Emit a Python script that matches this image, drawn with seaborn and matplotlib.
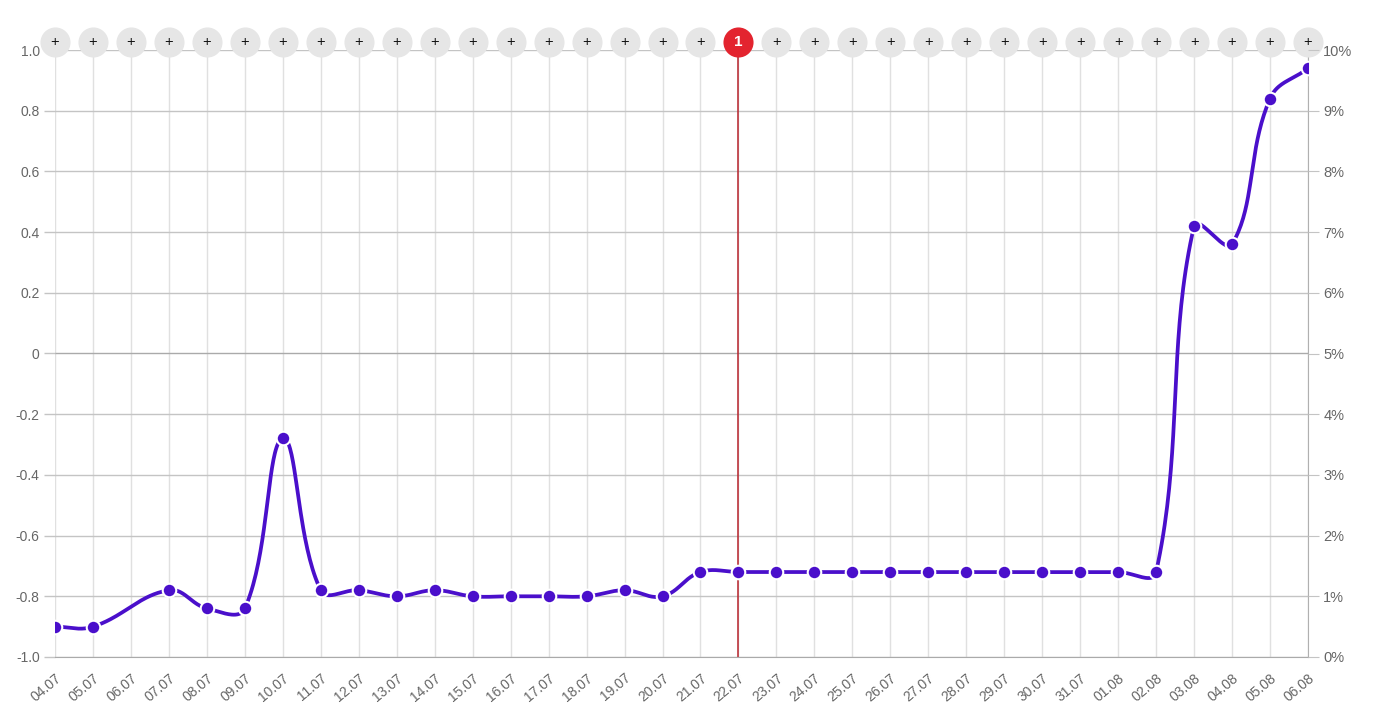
import matplotlib
matplotlib.use("Agg")
import matplotlib.pyplot as plt
import numpy as np
import pandas as pd
import seaborn as sns

# data
dates = ["04.07", "05.07", "06.07", "07.07", "08.07", "09.07", "10.07", "11.07", "12.07",
         "13.07", "14.07", "15.07", "16.07", "17.07", "18.07", "19.07", "20.07", "21.07",
         "22.07", "23.07", "24.07", "25.07", "26.07", "27.07", "28.07", "29.07", "30.07",
         "31.07", "01.08", "02.08", "03.08", "04.08", "05.08", "06.08"]
values = [-0.90, -0.90, np.nan, -0.78, -0.84, -0.84, -0.28, -0.78, -0.78,
          -0.80, -0.78, -0.80, -0.80, -0.80, -0.80, -0.78, -0.80, -0.72,
          -0.72, -0.72, -0.72, -0.72, -0.72, -0.72, -0.72, -0.72, -0.72,
          -0.72, -0.72, -0.72, 0.42, 0.36, 0.84, 0.94]
left_ticks = [-1.0, -0.8, -0.6, -0.4, -0.2, 0, 0.2, 0.4, 0.6, 0.8, 1.0]
left_labels = ["-1.0", "-0.8", "-0.6", "-0.4", "-0.2", "0", "0.2", "0.4", "0.6", "0.8", "1.0"]
right_ticks = list(range(0, 11))
event_date = "22.07"
event_label = "1"

line_color = "#4a0fcb"
grid_v = "#e0e0e0"
grid_h = "#c4c4c4"
text_color = "#666666"

df = pd.DataFrame({"date": dates, "value": values})
df["pos"] = np.arange(len(df))
pts = df.dropna()


# smooth curve like the web chart (tension 0.4), computed in pixel-like space
def spline_curve(xs, ys, sx, sy, tension=0.4, n=40):
    px, py = np.asarray(xs) * sx, np.asarray(ys) * sy
    m = len(px)
    cp_prev, cp_next = [], []
    for i in range(m):
        p0 = (px[max(i - 1, 0)], py[max(i - 1, 0)])
        p1 = (px[i], py[i])
        p2 = (px[min(i + 1, m - 1)], py[min(i + 1, m - 1)])
        d01 = np.hypot(p1[0] - p0[0], p1[1] - p0[1])
        d12 = np.hypot(p2[0] - p1[0], p2[1] - p1[1])
        tot = d01 + d12 if d01 + d12 > 0 else 1
        fa, fb = tension * d01 / tot, tension * d12 / tot
        cp_prev.append((p1[0] - fa * (p2[0] - p0[0]), p1[1] - fa * (p2[1] - p0[1])))
        cp_next.append((p1[0] + fb * (p2[0] - p0[0]), p1[1] + fb * (p2[1] - p0[1])))
    outx, outy = [], []
    t = np.linspace(0, 1, n)
    for i in range(m - 1):
        b0 = np.array([px[i], py[i]])
        b1 = np.array(cp_next[i])
        b2 = np.array(cp_prev[i + 1])
        b3 = np.array([px[i + 1], py[i + 1]])
        seg = ((1 - t) ** 3)[:, None] * b0 + (3 * (1 - t) ** 2 * t)[:, None] * b1 \
            + (3 * (1 - t) * t ** 2)[:, None] * b2 + (t ** 3)[:, None] * b3
        outx.extend(seg[:, 0])
        outy.extend(seg[:, 1])
    return np.array(outx) / sx, np.array(outy) / sy


cx, cy = spline_curve(pts["pos"].values, pts["value"].values, 37.97, 303.5)
curve = pd.DataFrame({"x": cx, "y": cy})

sns.set_style("white")
plt.rcParams["font.family"] = ["Liberation Sans", "DejaVu Sans"]
fig = plt.figure(figsize=(13.74, 7.18), dpi=100)
ax = fig.add_axes([55 / 1374, 1 - 657 / 718, 1253 / 1374, 607 / 718])

sns.lineplot(data=curve, x="x", y="y", ax=ax, color=line_color, linewidth=2.7,
             sort=False, estimator=None, zorder=3)
sns.scatterplot(data=pts, x="pos", y="value", ax=ax, color=line_color, s=95,
                edgecolor="white", linewidth=1.5, zorder=4)

ax.set_xlim(0, len(dates) - 1)
ax.set_ylim(-1, 1)
ax.set_xticks(df["pos"])
ax.set_xticklabels(dates, rotation=40, ha="right", rotation_mode="anchor")
ax.set_yticks(left_ticks)
ax.set_yticklabels(left_labels)
ax.set_xlabel("")
ax.set_ylabel("")
ax.tick_params(axis="x", length=8, width=1, colors=grid_v, pad=2)
ax.tick_params(axis="y", length=8, width=1, colors=grid_h, pad=3)
ax.tick_params(axis="both", labelcolor=text_color, labelsize=10)

for v in df["pos"]:
    ax.axvline(v, color=grid_v, linewidth=1, zorder=0)
for v in left_ticks:
    ax.axhline(v, color="#aaaaaa" if v == 0 else grid_h, linewidth=1, zorder=0)

for s in ["top", "left"]:
    ax.spines[s].set_visible(False)
ax.spines["bottom"].set_color("#aaaaaa")
ax.spines["right"].set_color("#b0b0b0")

# event line
ev = dates.index(event_date)
ax.axvline(ev, color="#b8242c", linewidth=1.1, zorder=2)

# top annotation bubbles
for i, d in enumerate(dates):
    is_ev = i == ev
    ax.scatter(i, 1.026, s=470, color="#e3242f" if is_ev else "#e6e6e6",
               clip_on=False, zorder=6, linewidths=0)
    ax.text(i, 1.026, event_label if is_ev else "+", ha="center", va="center",
            fontsize=11 if is_ev else 10.5, color="white" if is_ev else "#111111",
            fontweight="bold" if is_ev else "normal", clip_on=False, zorder=7)

ax2 = ax.twinx()
ax2.set_ylim(0, 10)
ax2.set_yticks(right_ticks)
ax2.set_yticklabels([f"{t}%" for t in right_ticks])
ax2.tick_params(axis="y", length=8, colors=grid_h, pad=3)
ax2.tick_params(axis="y", labelcolor=text_color, labelsize=10.5)
for s in ["top", "left", "bottom", "right"]:
    ax2.spines[s].set_visible(False)

fig.savefig("out.png", dpi=100)
